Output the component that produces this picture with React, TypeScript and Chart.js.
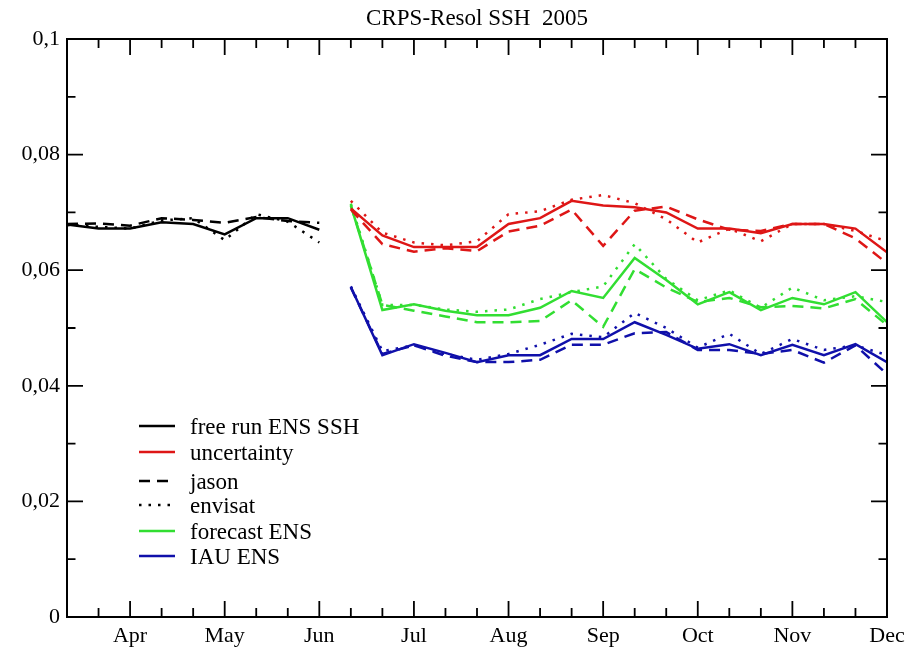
import React, { useEffect, useRef } from 'react';
import { Chart, registerables } from 'chart.js';

Chart.register(...registerables);

const FONT = "'Liberation Serif', 'Times New Roman', serif";

// x positions are in months (4 = Apr, 12 = Dec); samples every third of a month
const freeRunX = [3.3333, 3.6667, 4, 4.3333, 4.6667, 5, 5.3333, 5.6667, 6];
const freeRunTotal = [0.0679, 0.0672, 0.0672, 0.0683, 0.068, 0.0662, 0.069, 0.069, 0.067];
const freeRunJason = [0.068, 0.0681, 0.0677, 0.069, 0.0687, 0.0682, 0.0692, 0.0685, 0.0682];
const freeRunEnvisat = [0.0678, 0.0675, 0.0672, 0.0686, 0.069, 0.0652, 0.0697, 0.0684, 0.0648];

const ensX = [6.3333, 6.6667, 7, 7.3333, 7.6667, 8, 8.3333, 8.6667, 9, 9.3333, 9.6667, 10, 10.3333, 10.6667, 11, 11.3333, 11.6667, 12];
const uncTotal = [0.0707, 0.066, 0.064, 0.064, 0.064, 0.068, 0.069, 0.072, 0.0712, 0.0709, 0.07, 0.0672, 0.0672, 0.0664, 0.068, 0.068, 0.0672, 0.0631];
const uncJason = [0.0705, 0.0645, 0.0632, 0.0638, 0.0633, 0.0667, 0.0677, 0.0705, 0.0642, 0.0703, 0.071, 0.0688, 0.067, 0.0668, 0.068, 0.068, 0.0655, 0.0612];
const uncEnvisat = [0.072, 0.0665, 0.0648, 0.0643, 0.065, 0.0697, 0.0702, 0.0722, 0.073, 0.0716, 0.0688, 0.0648, 0.0672, 0.065, 0.068, 0.068, 0.0668, 0.065];
const fcTotal = [0.0712, 0.0531, 0.0541, 0.053, 0.0522, 0.0522, 0.0535, 0.0564, 0.0552, 0.0621, 0.0583, 0.0541, 0.0562, 0.0531, 0.0552, 0.0541, 0.0562, 0.051];
const fcJason = [0.0712, 0.054, 0.053, 0.052, 0.051, 0.051, 0.0512, 0.0548, 0.0502, 0.0602, 0.057, 0.0545, 0.0552, 0.0536, 0.0538, 0.0534, 0.055, 0.0505];
const fcEnvisat = [0.0715, 0.054, 0.054, 0.0532, 0.0528, 0.0532, 0.055, 0.0562, 0.0572, 0.0645, 0.0585, 0.0548, 0.0565, 0.0535, 0.057, 0.0548, 0.0555, 0.0545];
const iauTotal = [0.0571, 0.0453, 0.0472, 0.0457, 0.0441, 0.0453, 0.0453, 0.0481, 0.0481, 0.051, 0.0488, 0.0464, 0.0472, 0.0453, 0.0471, 0.0453, 0.0472, 0.0441];
const iauJason = [0.057, 0.0455, 0.047, 0.0452, 0.0441, 0.0441, 0.0445, 0.0471, 0.0471, 0.0491, 0.0493, 0.0462, 0.0462, 0.0455, 0.0462, 0.044, 0.047, 0.042];
const iauEnvisat = [0.0572, 0.046, 0.047, 0.0455, 0.0445, 0.0455, 0.0471, 0.049, 0.0484, 0.0526, 0.05, 0.0466, 0.049, 0.0455, 0.0481, 0.0462, 0.047, 0.0453];

const monthTicks = [4, 5, 6, 7, 8, 9, 10, 11, 12];
const monthLabels = ['Apr', 'May', 'Jun', 'Jul', 'Aug', 'Sep', 'Oct', 'Nov', 'Dec'];
const xMinorTicks = [3.6667, 4.3333, 4.6667, 5.3333, 5.6667, 6.3333, 6.6667, 7.3333, 7.6667, 8.3333, 8.6667, 9.3333, 9.6667, 10.3333, 10.6667, 11.3333, 11.6667];
const yTicks = [0, 0.02, 0.04, 0.06, 0.08, 0.1];
const yLabels = ['0', '0,02', '0,04', '0,06', '0,08', '0,1'];
const yMinorTicks = [0.01, 0.03, 0.05, 0.07, 0.09];

const legendLabels = ['free run ENS SSH', 'uncertainty', 'jason', 'envisat', 'forecast ENS', 'IAU ENS'];

const BLACK = '#000000';
const RED = 'rgb(222,22,22)';
const GREEN = 'rgb(50,222,50)';
const BLUE = 'rgb(16,16,170)';
const DASH = [11, 7];
const DOT = [2.5, 7];

const legendColors = [BLACK, RED, BLACK, BLACK, GREEN, BLUE];
const legendDashes: number[][] = [[], [], DASH, DOT, [], []];
const legendY = [426, 452, 481, 505, 531, 556];

function series(xs: number[], ys: number[]) {
  return xs.map((x, i) => ({ x, y: ys[i] }));
}

function ds(xs: number[], ys: number[], color: string, dash: number[]) {
  return {
    data: series(xs, ys),
    borderColor: color,
    backgroundColor: color,
    borderWidth: 2.5,
    borderDash: dash,
    borderCapStyle: 'butt' as const,
    pointRadius: 0,
    tension: 0,
    fill: false,
  };
}

const framePlugin = {
  id: 'frameTicks',
  afterDraw(chart: any) {
    const { ctx, chartArea, scales } = chart;
    const { left, right, top, bottom } = chartArea;
    const xs = scales.x;
    const ys = scales.y;
    ctx.save();
    ctx.strokeStyle = '#000';
    ctx.lineWidth = 2;
    ctx.strokeRect(left, top, right - left, bottom - top);
    ctx.lineWidth = 1.8;
    ctx.beginPath();
    const xt = (v: number, len: number) => {
      const p = xs.getPixelForValue(v);
      ctx.moveTo(p, bottom);
      ctx.lineTo(p, bottom - len);
      ctx.moveTo(p, top);
      ctx.lineTo(p, top + len);
    };
    const yt = (v: number, len: number) => {
      const p = ys.getPixelForValue(v);
      ctx.moveTo(left, p);
      ctx.lineTo(left + len, p);
      ctx.moveTo(right, p);
      ctx.lineTo(right - len, p);
    };
    monthTicks.forEach((v) => xt(v, 16));
    xMinorTicks.forEach((v) => xt(v, 9));
    yTicks.forEach((v) => yt(v, 16));
    yMinorTicks.forEach((v) => yt(v, 8.5));
    ctx.stroke();

    // legend
    ctx.font = `23px ${FONT}`;
    ctx.textBaseline = 'middle';
    ctx.textAlign = 'left';
    legendLabels.forEach((lab, i) => {
      const y = legendY[i];
      ctx.beginPath();
      ctx.strokeStyle = legendColors[i];
      ctx.lineWidth = 2.5;
      ctx.setLineDash(legendDashes[i]);
      ctx.moveTo(139, y);
      ctx.lineTo(175, y);
      ctx.stroke();
      ctx.setLineDash([]);
      ctx.fillStyle = '#000';
      ctx.fillText(lab, 190, y + 2);
    });
    ctx.restore();
  },
};

export default function App() {
  const ref = useRef<HTMLCanvasElement>(null);
  useEffect(() => {
    const chart = new Chart(ref.current as HTMLCanvasElement, {
      type: 'line',
      data: {
        datasets: [
          ds(freeRunX, freeRunTotal, BLACK, []),
          ds(freeRunX, freeRunJason, BLACK, DASH),
          ds(freeRunX, freeRunEnvisat, BLACK, DOT),
          ds(ensX, uncTotal, RED, []),
          ds(ensX, uncJason, RED, DASH),
          ds(ensX, uncEnvisat, RED, DOT),
          ds(ensX, fcTotal, GREEN, []),
          ds(ensX, fcJason, GREEN, DASH),
          ds(ensX, fcEnvisat, GREEN, DOT),
          ds(ensX, iauTotal, BLUE, []),
          ds(ensX, iauJason, BLUE, DASH),
          ds(ensX, iauEnvisat, BLUE, DOT),
        ] as any,
      },
      options: {
        responsive: false,
        maintainAspectRatio: false,
        animation: false,
        devicePixelRatio: 1,
        layout: { padding: { left: 0, right: 31, top: 0, bottom: 0 } },
        plugins: {
          legend: { display: false },
          tooltip: { enabled: false },
          title: {
            display: true,
            fullSize: false,
            text: 'CRPS-Resol SSH  2005',
            color: '#000',
            font: { family: FONT, size: 23, weight: 'normal' },
            padding: { top: 5.5, bottom: 5.9 },
          },
        },
        scales: {
          x: {
            type: 'linear',
            min: 3.3333,
            max: 12,
            afterBuildTicks: (s: any) => {
              s.ticks = monthTicks.map((v) => ({ value: v }));
            },
            afterFit: (s: any) => {
              s.height = 32;
            },
            grid: { display: false, drawTicks: false },
            border: { display: false },
            ticks: {
              autoSkip: false,
              maxRotation: 0,
              padding: 6,
              color: '#000',
              font: { family: FONT, size: 22 },
              callback: (_v: any, i: number) => monthLabels[i],
            },
          },
          y: {
            type: 'linear',
            min: 0,
            max: 0.1,
            afterBuildTicks: (s: any) => {
              s.ticks = yTicks.map((v) => ({ value: v }));
            },
            afterFit: (s: any) => {
              s.width = 67;
            },
            grid: { display: false, drawTicks: false },
            border: { display: false },
            ticks: {
              padding: 7,
              color: '#000',
              font: { family: FONT, size: 22 },
              callback: (_v: any, i: number) => yLabels[i],
            },
          },
        },
      },
      plugins: [framePlugin],
    });
    return () => chart.destroy();
  }, []);
  return (
    <div style={{ position: 'fixed', left: 0, top: 0, width: 918, height: 649, background: '#fff' }}>
      <canvas ref={ref} width={918} height={649} style={{ display: 'block', width: 918, height: 649 }} />
    </div>
  );
}
